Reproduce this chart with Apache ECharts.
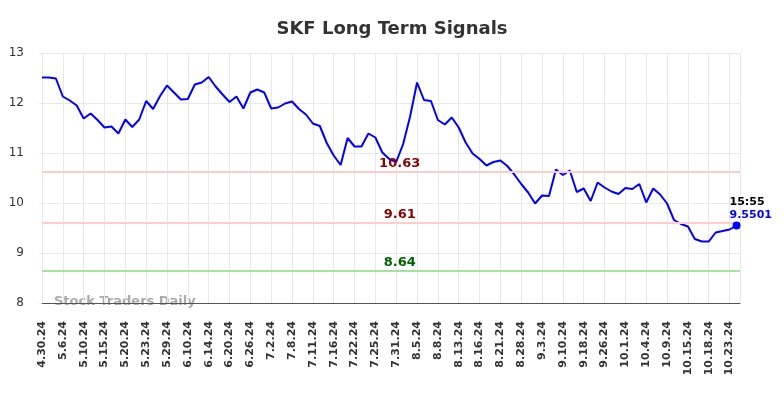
<!DOCTYPE html>
<html>
<head>
<meta charset="utf-8">
<script src="https://cdn.jsdelivr.net/npm/echarts@6/dist/echarts.min.js"></script>
<style>
  html, body { margin: 0; padding: 0; background: #fff; }
  #chart { width: 784px; height: 398px; }
</style>
</head>
<body>
<div id="chart"></div>
<script>
// tick labels, one every 3 points
var tickLabels = ['4.30.24','5.6.24','5.10.24','5.15.24','5.20.24','5.23.24','5.29.24','6.10.24','6.14.24','6.20.24','6.26.24','7.2.24','7.8.24','7.11.24','7.16.24','7.22.24','7.25.24','7.31.24','8.5.24','8.8.24','8.13.24','8.16.24','8.21.24','8.28.24','9.3.24','9.10.24','9.18.24','9.26.24','10.1.24','10.4.24','10.9.24','10.15.24','10.18.24','10.23.24'];

// closing prices
var prices = [
  12.51,12.51,12.49,12.13,12.05,11.95,11.69,11.79,11.66,11.51,
  11.53,11.39,11.67,11.52,11.67,12.04,11.88,12.14,12.35,12.21,
  12.07,12.08,12.37,12.41,12.52,12.33,12.17,12.02,12.13,11.89,
  12.21,12.27,12.21,11.89,11.91,11.99,12.03,11.88,11.77,11.59,
  11.54,11.20,10.95,10.76,11.30,11.13,11.13,11.39,11.31,11.01,
  10.88,10.82,11.18,11.73,12.41,12.06,12.04,11.66,11.57,11.71,
  11.51,11.21,10.99,10.88,10.75,10.82,10.85,10.74,10.57,10.38,
  10.21,9.99,10.15,10.14,10.67,10.56,10.65,10.22,10.29,10.04,
  10.41,10.31,10.23,10.18,10.30,10.28,10.38,10.01,10.29,10.17,
  9.99,9.66,9.58,9.53,9.28,9.23,9.23,9.41,9.44,9.47,
  9.5501
];

var levels = [10.63, 9.61, 8.64];
var levelColors = ['#ffcccc', '#ffcccc', '#a3e4a3'];
var levelTextColors = ['#8b0000', '#8b0000', '#006400'];
var lastTime = '15:55';

var points = prices.map(function (v, i) { return [i, v]; });
var lastIdx = prices.length - 1;

var myChart = echarts.init(document.getElementById('chart'));

var option = {
  animation: false,
  textStyle: { fontFamily: 'DejaVu Sans' },
  title: {
    text: 'SKF Long Term Signals',
    left: 'center',
    top: 15,
    textStyle: { fontSize: 18, fontWeight: 'bold', color: '#333', fontFamily: 'DejaVu Sans' }
  },
  grid: { left: 42, right: 44, top: 53, bottom: 95 },
  xAxis: {
    type: 'value',
    min: 0,
    max: lastIdx + 0.5,
    interval: 3,
    axisLine: { show: true, onZero: false, lineStyle: { color: '#555', width: 1 } },
    axisTick: { show: false },
    splitLine: { show: true, lineStyle: { color: '#e8e8e8', width: 1 } },
    axisLabel: {
      rotate: 90,
      fontSize: 11,
      fontWeight: 'bold',
      color: '#333',
      margin: 18,
      showMaxLabel: false,
      formatter: function (v) {
        if (v % 3 !== 0) return '';
        return tickLabels[v / 3] || '';
      }
    }
  },
  yAxis: {
    type: 'value',
    min: 8,
    max: 13,
    interval: 1,
    axisLine: { show: false },
    axisTick: { show: true, length: 3, lineStyle: { color: '#e8e8e8' } },
    splitLine: { show: true, lineStyle: { color: '#e8e8e8', width: 1 } },
    axisLabel: { fontSize: 12, color: '#333', margin: 18 }
  },
  graphic: [{
    type: 'text',
    left: 54,
    top: 295,
    style: { text: 'Stock Traders Daily', fill: '#aaa', font: 'bold 13px "DejaVu Sans"' }
  }],
  series: [{
    type: 'line',
    data: points,
    symbol: 'none',
    lineStyle: { color: '#0000ff', width: 2 },
    itemStyle: { color: '#0000ff' },
    markLine: {
      silent: true,
      symbol: 'none',
      label: { show: false },
      data: levels.map(function (lv, i) {
        return { yAxis: lv, lineStyle: { color: levelColors[i], width: 2, type: 'solid' } };
      })
    },
    markPoint: {
      silent: true,
      data: levels.map(function (lv, i) {
        return {
          coord: [51.5, lv],
          symbol: 'circle',
          symbolSize: 0,
          label: {
            show: true,
            formatter: lv.toFixed(2),
            offset: [0, -8],
            color: levelTextColors[i],
            fontSize: 13,
            fontWeight: 'bold'
          }
        };
      }).concat([{
        coord: [lastIdx, prices[lastIdx]],
        symbol: 'circle',
        symbolSize: 8,
        itemStyle: { color: '#0000ff' },
        label: {
          show: true,
          position: 'right',
          offset: [-16, -17],
          formatter: '{t|' + lastTime + '}\n{v|' + prices[lastIdx] + '}',
          rich: {
            t: { color: '#000', fontSize: 11, fontWeight: 'bold', lineHeight: 13 },
            v: { color: '#0000ff', fontSize: 11, fontWeight: 'bold', lineHeight: 13 }
          }
        }
      }])
    }
  }]
};

myChart.setOption(option);
</script>
</body>
</html>
